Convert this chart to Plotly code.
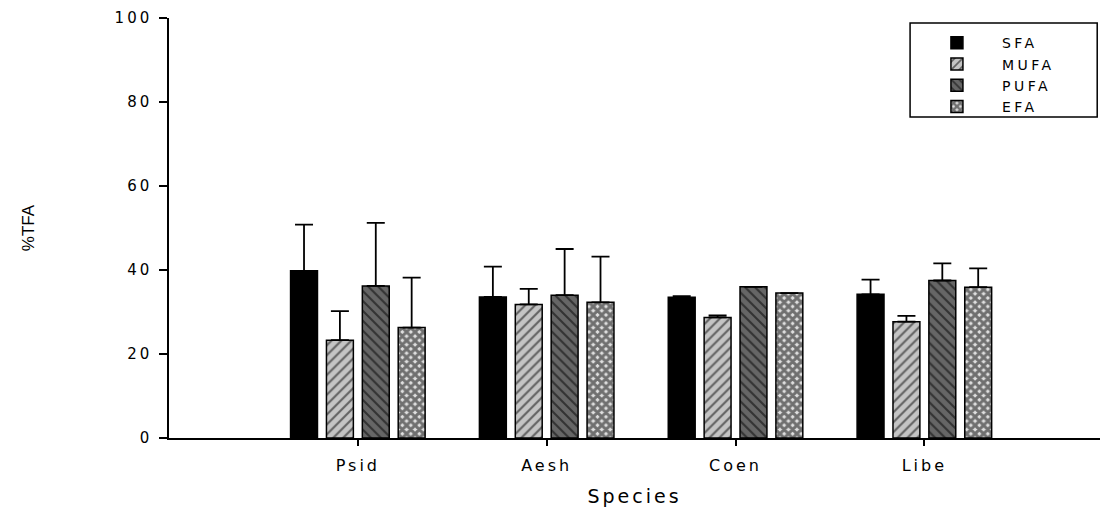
import plotly.graph_objects as go

species = ["Psid", "Aesh", "Coen", "Libe"]

sfa = [39.8, 33.6, 33.5, 34.2]
sfa_err = [11.0, 7.2, 0.3, 3.5]
mufa = [23.3, 31.8, 28.7, 27.7]
mufa_err = [6.9, 3.7, 0.5, 1.4]
pufa = [36.2, 34.0, 36.0, 37.5]
pufa_err = [15.0, 11.0, 0.0, 4.1]
efa = [26.3, 32.3, 34.5, 35.9]
efa_err = [11.9, 10.9, 0.0, 4.5]

y_ticks = [0, 20, 40, 60, 80, 100]

FONT = "DejaVu Sans, Liberation Sans, sans-serif"


def wide(text, spacing):
    """Spread out the letters of a label."""
    return f'<span style="letter-spacing:{spacing}px">{text}</span>'


series = [
    ("SFA", sfa, sfa_err, dict(color="#000000")),
    ("MUFA", mufa, mufa_err,
     dict(color="#c4c4c4", pattern=dict(shape="/", fgcolor="#000000", bgcolor="#c4c4c4", size=7, solidity=0.3))),
    ("PUFA", pufa, pufa_err,
     dict(color="#666666", pattern=dict(shape="\\", fgcolor="#000000", bgcolor="#666666", size=7, solidity=0.3))),
    ("EFA", efa, efa_err,
     dict(color="#e0e0e0", pattern=dict(shape="x", fgcolor="#000000", bgcolor="#e0e0e0", size=6, solidity=0.75))),
]

fig = go.Figure()
for name, vals, errs, marker in series:
    marker = dict(marker)
    marker["line"] = dict(color="#000000", width=1.5)
    fig.add_trace(go.Bar(
        name=wide(name, 3.5),
        x=species,
        y=vals,
        marker=marker,
        error_y=dict(type="data", array=errs, arrayminus=[0] * len(errs),
                     symmetric=False, color="#000000", thickness=1.8, width=9),
    ))

# frame around the legend
fig.add_shape(type="rect", xref="paper", yref="paper",
              x0=0.796, x1=0.997, y0=0.764, y1=0.988,
              line=dict(color="#000000", width=1.5), fillcolor="rgba(0,0,0,0)",
              layer="above")

fig.update_layout(
    width=1105,
    height=510,
    margin=dict(l=169, r=5, t=18, b=72),
    paper_bgcolor="white",
    plot_bgcolor="white",
    barmode="group",
    bargap=0.24,
    bargroupgap=0.25,
    font=dict(family=FONT, color="#000000", size=15),
    showlegend=True,
    legend=dict(
        x=0.798, y=0.978, xanchor="left", yanchor="top",
        borderwidth=0, bgcolor="rgba(0,0,0,0)",
        font=dict(family=FONT, size=14),
        tracegroupgap=0, itemwidth=80,
    ),
    xaxis=dict(
        type="category",
        range=[-1, 3.93],
        tickvals=species,
        ticktext=[wide(s, 3) for s in species],
        showline=True, linecolor="#000000", linewidth=1.5,
        ticks="outside", ticklen=6, tickcolor="#000000", tickwidth=1.5,
        showgrid=False, zeroline=False,
        tickfont=dict(size=16),
        ticklabelstandoff=6,
        title=dict(text=wide("Species", 3), font=dict(size=19), standoff=16),
    ),
    yaxis=dict(
        range=[0, 100],
        tickvals=y_ticks,
        ticktext=[wide(str(v), 3) for v in y_ticks],
        showline=True, linecolor="#000000", linewidth=1.5,
        ticks="outside", ticklen=8, tickcolor="#000000", tickwidth=1.5,
        showgrid=False, zeroline=False,
        tickfont=dict(size=15),
        ticklabelstandoff=4,
        title=dict(text="%TFA",
                   font=dict(family="Liberation Sans, Arial, sans-serif", size=17),
                   standoff=76),
    ),
)

fig.write_html("out.html")
